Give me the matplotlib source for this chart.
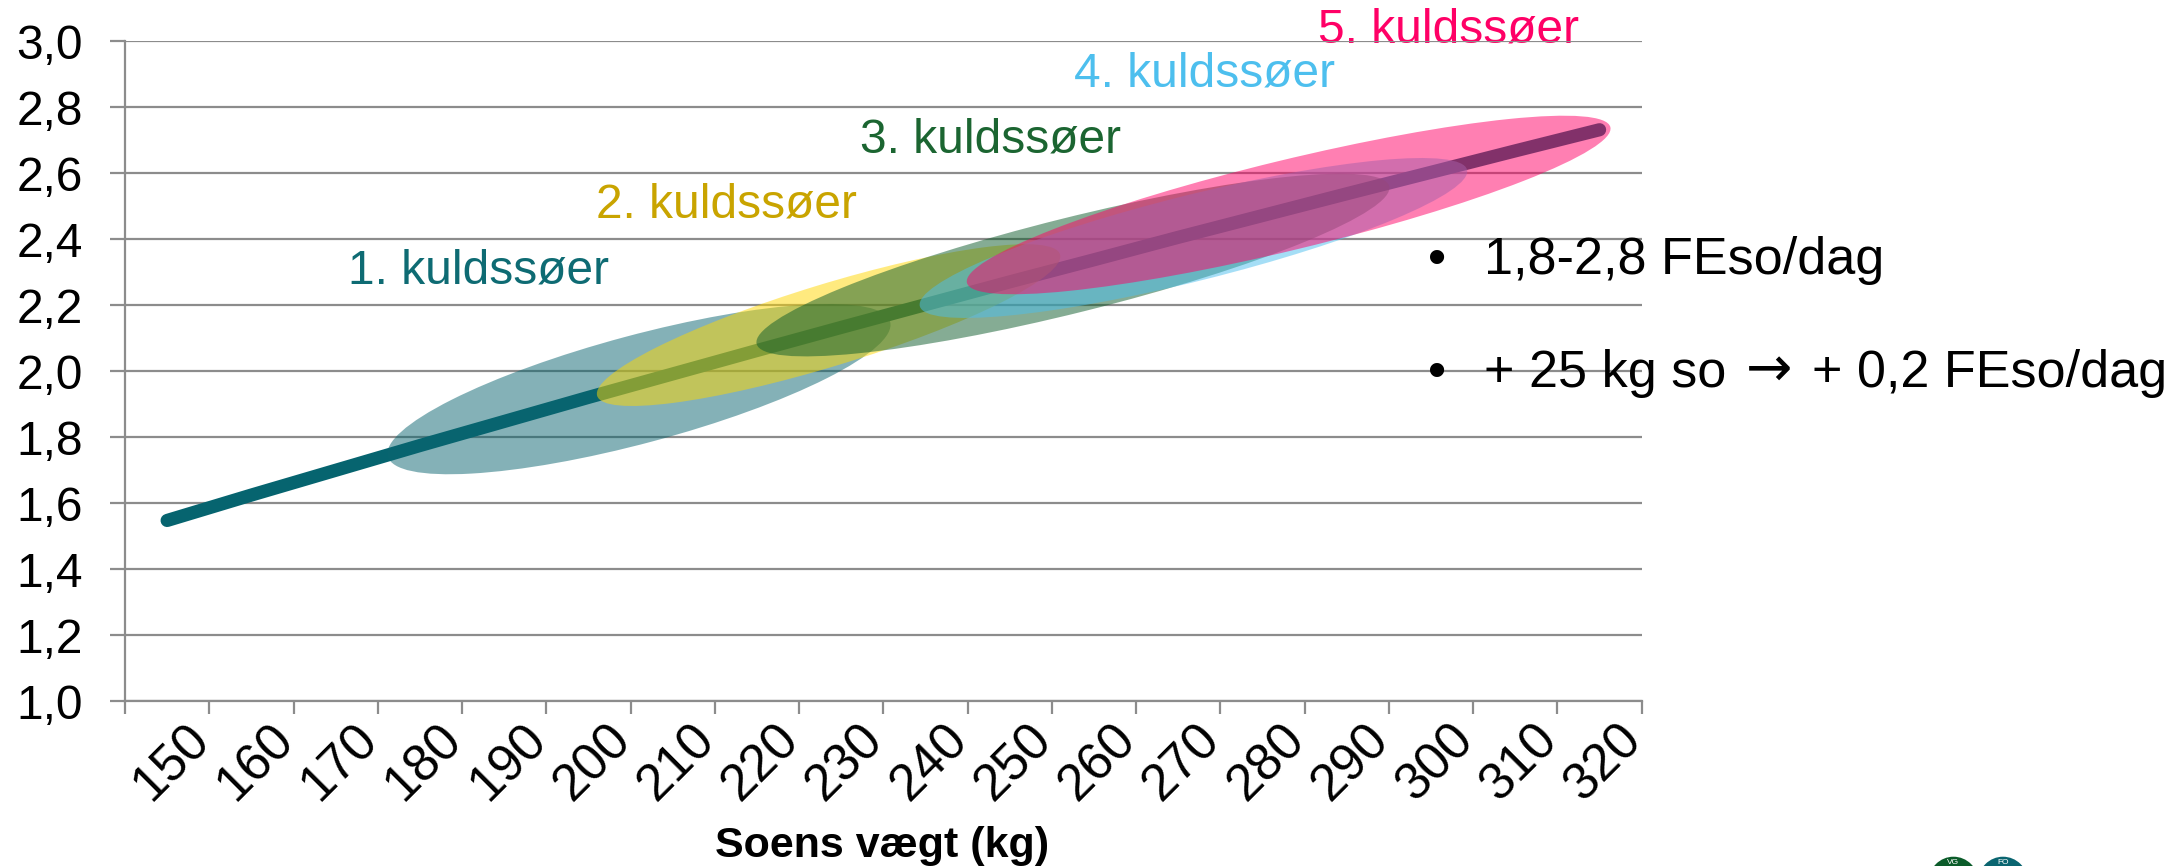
import numpy as np
import matplotlib
matplotlib.use("Agg")
import matplotlib.pyplot as plt
from matplotlib.patches import Ellipse, Circle
from matplotlib.transforms import ScaledTranslation, IdentityTransform

plt.rcParams["font.family"] = ["Liberation Sans", "DejaVu Sans"]

# data
weights = [150, 160, 170, 180, 190, 200, 210, 220, 230, 240,
           250, 260, 270, 280, 290, 300, 310, 320]
feed = [1.548, 1.625, 1.700, 1.775, 1.848, 1.921, 1.992, 2.063, 2.133, 2.202,
        2.271, 2.338, 2.406, 2.472, 2.538, 2.603, 2.668, 2.732]
parities = ["1. kuldssøer", "2. kuldssøer", "3. kuldssøer", "4. kuldssøer", "5. kuldssøer"]
parity_kg = [206, 228.5, 257.5, 271.8, 283.1]       # centre weight of each cloud
parity_fe = [1.946, 2.140, 2.322, 2.404, 2.504]     # centre FEso of each cloud
bullets = ["1,8-2,8 FEso/dag", ["+ 25 kg so", "\u2192", "+ 0,2 FEso/dag"]]
xlabel = "Soens vægt (kg)"

# styling / layout
fill_cols = ["#0A6570", "#FFD700", "#0D5B2A", "#4DBFEE", "#FF0066"]
text_cols = ["#0E6B73", "#C9A400", "#1B6531", "#4DBFEE", "#FF0066"]
ell_len = [520, 484, 652, 564, 662]     # px
ell_thk = [108, 82, 95, 86, 90]         # px
ell_ang = [15, 17, 14, 14, 13.6]        # deg
lab_kg = [187.0, 216.4, 247.7, 273.1, 302.1]
lab_fe = [2.304, 2.504, 2.701, 2.901, 3.035]
GRID = "#8C8C8C"
FS = 34.5

W, H = 2177, 866
fig = plt.figure(figsize=(W / 100, H / 100), dpi=100)
ax = fig.add_axes([125 / W, 1 - 701.3 / H, (1641.7 - 125) / W, (701.3 - 41.3) / H])

x = np.arange(len(weights))
ax.plot(x, feed, color="#06646F", lw=9.5, solid_capstyle="round", zorder=2)

def kg2x(kg):
    return (kg - weights[0]) / (weights[1] - weights[0])

for i in range(len(parities)):
    tr = IdentityTransform() + ScaledTranslation(kg2x(parity_kg[i]), parity_fe[i], ax.transData)
    ax.add_patch(Ellipse((0, 0), ell_len[i], ell_thk[i], angle=ell_ang[i],
                         facecolor=fill_cols[i], edgecolor="none", alpha=0.5,
                         transform=tr, zorder=3, clip_on=False))
    ax.text(kg2x(lab_kg[i]), lab_fe[i], parities[i], color=text_cols[i], fontsize=FS,
            ha="center", va="center", zorder=0.3, clip_on=False)

ax.set_xlim(-0.5, len(weights) - 0.5)
ax.set_ylim(1.0, 3.0)
yt = np.round(np.arange(1.0, 3.01, 0.2), 1)
ax.set_yticks(yt)
ax.set_yticklabels([f"{v:.1f}".replace(".", ",") for v in yt])
ax.grid(axis="y", color=GRID, lw=1.6)
ax.set_axisbelow(True)
ax.set_xticks(x)
ax.set_xticklabels([str(w) for w in weights], rotation=45, ha="right", va="top",
                   rotation_mode="anchor")
ax.set_xticks(np.arange(-0.5, len(weights)), minor=True)
ax.tick_params(axis="x", which="major", length=0, pad=10, labelsize=37)
ax.tick_params(axis="x", which="minor", length=9.5, width=1.6, color=GRID)
ax.tick_params(axis="y", length=10.5, width=1.6, color=GRID, pad=20, labelsize=FS)
for s in ["top", "right"]:
    ax.spines[s].set_visible(False)
for s in ["left", "bottom"]:
    ax.spines[s].set_color(GRID)
    ax.spines[s].set_linewidth(1.6)
shift = ScaledTranslation(17 / 100, 0, fig.dpi_scale_trans)
for lbl in ax.get_xticklabels():
    lbl.set_transform(lbl.get_transform() + shift)

fig.text(882 / W, 1 - 857 / H, xlabel, fontsize=31, fontweight="bold",
         ha="center", va="baseline")

BFS = 37.5
fig.text(1428 / W, 1 - 274 / H, "\u2022", fontsize=BFS, ha="left", va="baseline")
fig.text(1484 / W, 1 - 274 / H, bullets[0], fontsize=BFS, ha="left", va="baseline")
fig.text(1428 / W, 1 - 387 / H, "\u2022", fontsize=BFS, ha="left", va="baseline")
fig.text(1484 / W, 1 - 387 / H, bullets[1][0], fontsize=BFS, ha="left", va="baseline")
fig.text(1769 / W, 1 - 371 / H, bullets[1][1], fontsize=40, family="DejaVu Sans",
         ha="center", va="center")
fig.text(1812 / W, 1 - 387 / H, bullets[1][2], fontsize=BFS, ha="left", va="baseline")

# logo stub at bottom right
for cx, col, tag in [(1953.5, "#0B5C2A", "VG"), (2003, "#0A6570", "FO")]:
    fig.patches.append(Circle((cx, H - 881.4), 24.7, facecolor=col, edgecolor="none",
                              transform=IdentityTransform(), figure=fig))
    fig.text(cx / W, 1 - 864 / H, tag, color="white", fontsize=6, ha="center", va="baseline")

fig.savefig("out.png", dpi=100)
